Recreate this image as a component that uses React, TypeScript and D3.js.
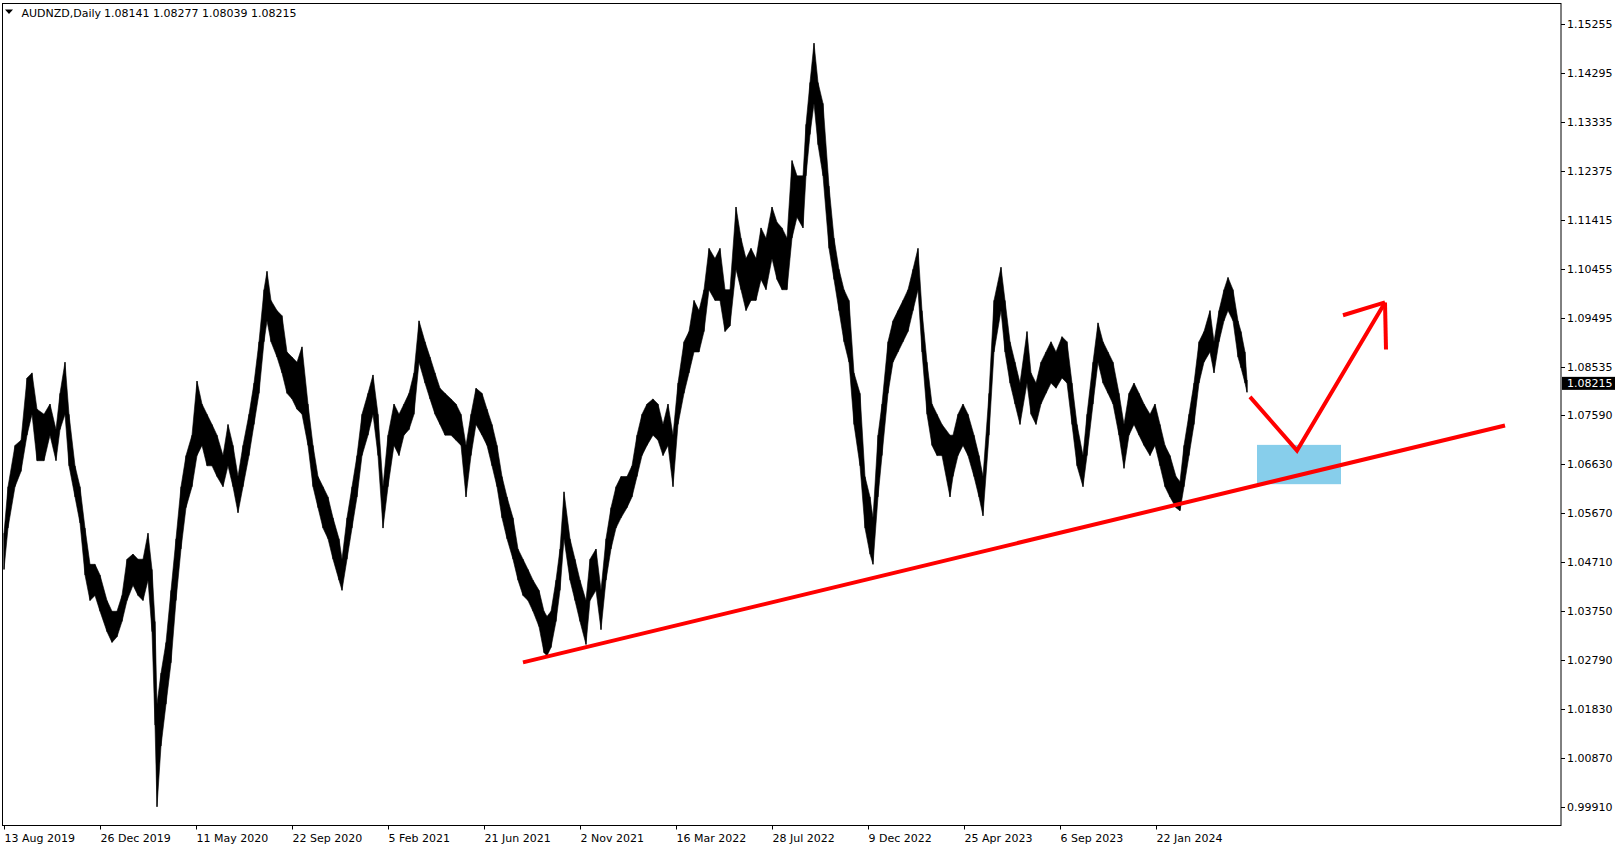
import React from 'react';
import * as d3 from 'd3';

const symbolTitle = 'AUDNZD,Daily';
const lastOHLC = ['1.08141', '1.08277', '1.08039', '1.08215'];
const lastClose = 1.08215;

const priceTickLabels = [
  '1.15255', '1.14295', '1.13335', '1.12375', '1.11415', '1.10455', '1.09495', '1.08535',
  '1.07590', '1.06630', '1.05670', '1.04710', '1.03750', '1.02790', '1.01830', '1.00870', '0.99910',
];

const dateTickLabels = [
  '13 Aug 2019', '26 Dec 2019', '11 May 2020', '22 Sep 2020', '5 Feb 2021', '21 Jun 2021',
  '2 Nov 2021', '16 Mar 2022', '28 Jul 2022', '9 Dec 2022', '25 Apr 2023', '6 Sep 2023', '22 Jan 2024',
];
// trading-day index (from 13 Aug 2019) of each date label
const dateTickDays = [0, 96, 192, 288, 384, 480, 576, 672, 768, 864, 960, 1056, 1152];

// sampled daily range (trading-day index, high, low)
const sampleDay = [
  0, 4, 11, 17, 23, 28, 33, 40, 46, 52, 56, 61, 65, 71, 76, 81, 86, 91, 96, 103,
  108, 113, 118, 123, 129, 134, 139, 144, 148, 151, 153, 157, 162, 167, 172, 177, 182, 188, 193, 198,
  203, 208, 213, 219, 224, 229, 234, 239, 245, 250, 255, 260, 263, 267, 273, 278, 283, 288, 293, 298,
  304, 309, 314, 319, 324, 329, 335, 338, 343, 348, 353, 358, 364, 369, 374, 379, 384, 390, 395, 400,
  405, 410, 415, 421, 426, 431, 436, 441, 447, 452, 457, 462, 467, 472, 478, 483, 488, 493, 498, 503,
  509, 514, 519, 524, 529, 535, 540, 543, 547, 552, 556, 560, 566, 571, 576, 582, 586, 592, 597, 602,
  607, 612, 617, 623, 628, 633, 638, 643, 649, 654, 659, 664, 669, 674, 680, 685, 690, 695, 700, 705,
  711, 716, 721, 726, 732, 737, 742, 747, 752, 757, 762, 768, 773, 778, 783, 788, 793, 799, 802, 806,
  810, 814, 819, 825, 830, 835, 840, 845, 850, 856, 861, 866, 869, 874, 878, 884, 889, 894, 899, 904,
  909, 914, 918, 923, 928, 933, 938, 946, 949, 954, 959, 964, 970, 975, 979, 985, 990, 997, 1001, 1006,
  1011, 1016, 1023, 1027, 1032, 1037, 1042, 1047, 1052, 1058, 1063, 1068, 1073, 1079, 1083, 1089, 1094, 1099, 1104, 1109,
  1115, 1120, 1125, 1130, 1135, 1140, 1146, 1151, 1156, 1161, 1166, 1172, 1176, 1180, 1185, 1190, 1195, 1200, 1206, 1210,
  1215, 1220, 1224, 1229, 1234, 1237, 1241, 1243,
];
const sampleHigh = [
  1.0528, 1.0619, 1.0700, 1.0710, 1.0832, 1.0842, 1.0771, 1.0761, 1.0781, 1.0731, 1.0802, 1.0863, 1.0761, 1.0660, 1.0619, 1.0538, 1.0467, 1.0467, 1.0446, 1.0396,
  1.0375, 1.0375, 1.0406, 1.0477, 1.0487, 1.0477, 1.0477, 1.0528, 1.0457, 1.0355, 1.0193, 1.0254, 1.0314, 1.0416, 1.0517, 1.0619, 1.0680, 1.0720, 1.0826, 1.0781,
  1.0761, 1.0741, 1.0720, 1.0680, 1.0741, 1.0700, 1.0639, 1.0700, 1.0761, 1.0822, 1.0903, 1.1005, 1.1041, 1.0984, 1.0964, 1.0954, 1.0883, 1.0873, 1.0863, 1.0893,
  1.0781, 1.0700, 1.0639, 1.0619, 1.0599, 1.0558, 1.0517, 1.0477, 1.0558, 1.0619, 1.0680, 1.0761, 1.0802, 1.0838, 1.0761, 1.0619, 1.0720, 1.0781, 1.0761, 1.0781,
  1.0802, 1.0842, 1.0944, 1.0903, 1.0873, 1.0842, 1.0812, 1.0802, 1.0791, 1.0781, 1.0761, 1.0700, 1.0761, 1.0812, 1.0802, 1.0771, 1.0741, 1.0700, 1.0639, 1.0599,
  1.0558, 1.0497, 1.0477, 1.0457, 1.0436, 1.0416, 1.0375, 1.0365, 1.0375, 1.0436, 1.0497, 1.0609, 1.0517, 1.0477, 1.0436, 1.0396, 1.0477, 1.0497, 1.0416, 1.0517,
  1.0578, 1.0619, 1.0639, 1.0639, 1.0660, 1.0720, 1.0761, 1.0781, 1.0791, 1.0781, 1.0741, 1.0781, 1.0720, 1.0822, 1.0903, 1.0923, 1.0984, 1.0964, 1.1005, 1.1086,
  1.1066, 1.1086, 1.1005, 1.1005, 1.1167, 1.1106, 1.1066, 1.1086, 1.1066, 1.1126, 1.1106, 1.1167, 1.1137, 1.1126, 1.1106, 1.1258, 1.1228, 1.1228, 1.1329, 1.1411,
  1.1488, 1.1411, 1.1370, 1.1208, 1.1106, 1.1045, 1.1005, 1.0984, 1.0842, 1.0802, 1.0639, 1.0599, 1.0558, 1.0720, 1.0781, 1.0903, 1.0944, 1.0964, 1.0984, 1.1005,
  1.1045, 1.1086, 1.0964, 1.0863, 1.0781, 1.0761, 1.0741, 1.0720, 1.0720, 1.0761, 1.0781, 1.0761, 1.0720, 1.0680, 1.0639, 1.0802, 1.0984, 1.1049, 1.0984, 1.0903,
  1.0863, 1.0822, 1.0923, 1.0842, 1.0822, 1.0863, 1.0883, 1.0903, 1.0883, 1.0913, 1.0903, 1.0822, 1.0741, 1.0680, 1.0761, 1.0863, 1.0940, 1.0903, 1.0883, 1.0863,
  1.0802, 1.0741, 1.0802, 1.0822, 1.0802, 1.0781, 1.0761, 1.0781, 1.0741, 1.0700, 1.0680, 1.0639, 1.0629, 1.0700, 1.0761, 1.0822, 1.0903, 1.0923, 1.0964, 1.0903,
  1.0964, 1.1005, 1.1029, 1.1005, 1.0944, 1.0923, 1.0883, 1.0828,
];
const sampleLow = [
  1.0457, 1.0538, 1.0619, 1.0649, 1.0720, 1.0761, 1.0670, 1.0670, 1.0720, 1.0670, 1.0731, 1.0761, 1.0660, 1.0599, 1.0548, 1.0446, 1.0396, 1.0406, 1.0375, 1.0335,
  1.0314, 1.0325, 1.0355, 1.0396, 1.0426, 1.0406, 1.0396, 1.0436, 1.0335, 1.0152, 0.9992, 1.0111, 1.0193, 1.0274, 1.0396, 1.0497, 1.0578, 1.0619, 1.0680, 1.0700,
  1.0660, 1.0660, 1.0639, 1.0619, 1.0660, 1.0619, 1.0568, 1.0619, 1.0680, 1.0741, 1.0802, 1.0903, 1.0944, 1.0903, 1.0873, 1.0842, 1.0802, 1.0791, 1.0771, 1.0761,
  1.0700, 1.0619, 1.0578, 1.0538, 1.0517, 1.0477, 1.0436, 1.0416, 1.0477, 1.0538, 1.0599, 1.0680, 1.0720, 1.0761, 1.0680, 1.0538, 1.0619, 1.0700, 1.0680, 1.0720,
  1.0731, 1.0761, 1.0863, 1.0822, 1.0791, 1.0761, 1.0741, 1.0720, 1.0720, 1.0710, 1.0700, 1.0599, 1.0680, 1.0741, 1.0720, 1.0700, 1.0660, 1.0619, 1.0558, 1.0517,
  1.0477, 1.0436, 1.0406, 1.0396, 1.0375, 1.0345, 1.0294, 1.0288, 1.0304, 1.0355, 1.0416, 1.0517, 1.0436, 1.0396, 1.0355, 1.0310, 1.0396, 1.0416, 1.0339, 1.0436,
  1.0497, 1.0538, 1.0558, 1.0578, 1.0599, 1.0639, 1.0680, 1.0700, 1.0720, 1.0710, 1.0680, 1.0700, 1.0619, 1.0741, 1.0802, 1.0842, 1.0883, 1.0883, 1.0923, 1.1005,
  1.0984, 1.0984, 1.0923, 1.0934, 1.1045, 1.1005, 1.0964, 1.0984, 1.0984, 1.1025, 1.1005, 1.1066, 1.1025, 1.1005, 1.1005, 1.1106, 1.1147, 1.1126, 1.1228, 1.1309,
  1.1370, 1.1289, 1.1228, 1.1086, 1.1025, 1.0964, 1.0903, 1.0863, 1.0741, 1.0660, 1.0538, 1.0487, 1.0467, 1.0599, 1.0680, 1.0802, 1.0863, 1.0883, 1.0903, 1.0923,
  1.0964, 1.1005, 1.0883, 1.0761, 1.0700, 1.0680, 1.0680, 1.0599, 1.0639, 1.0680, 1.0700, 1.0680, 1.0639, 1.0599, 1.0562, 1.0720, 1.0883, 1.0964, 1.0883, 1.0822,
  1.0781, 1.0741, 1.0822, 1.0761, 1.0741, 1.0781, 1.0802, 1.0822, 1.0812, 1.0832, 1.0822, 1.0741, 1.0660, 1.0619, 1.0680, 1.0781, 1.0863, 1.0822, 1.0802, 1.0781,
  1.0720, 1.0655, 1.0720, 1.0741, 1.0720, 1.0700, 1.0680, 1.0700, 1.0660, 1.0619, 1.0599, 1.0578, 1.0572, 1.0619, 1.0680, 1.0741, 1.0822, 1.0863, 1.0883, 1.0842,
  1.0903, 1.0944, 1.0964, 1.0944, 1.0873, 1.0852, 1.0822, 1.0804,
];

// drawn objects (trading-day index, price)
const trendDays = [519, 1501];
const trendPrices = [1.0275, 1.0739];
const pathDays = [1246, 1293, 1381];
const pathPrices = [1.0795, 1.069, 1.098];
const arrowArmDays = [1339, 1382];
const arrowArmPrices = [1.0955, 1.0888];
const zoneDays = [1253, 1337];
const zonePrices = [1.0701, 1.0624];

const FONT = '"DejaVu Sans", Verdana, sans-serif';

export default function App() {
  const W = 1624;
  const H = 850;
  const left = 2.5;
  const top = 3.5;
  const right = 1561;
  const bottom = 825.5;

  const x = d3.scaleLinear().domain([0, 1556]).range([4, 1560]);
  const y = d3.scaleLinear().domain([0.9991, 1.15255]).range([807.3, 24]);

  const rows = sampleDay.map((d, i) => ({ d, h: sampleHigh[i], l: sampleLow[i] }));
  const area = d3
    .area<{ d: number; h: number; l: number }>()
    .x((r) => x(r.d))
    .y0((r) => y(r.l))
    .y1((r) => y(r.h));
  const line = d3.line<[number, number]>().x((p) => x(p[0])).y((p) => y(p[1]));

  const trend: [number, number][] = trendDays.map((d, i) => [d, trendPrices[i]]);
  const zig: [number, number][] = pathDays.map((d, i) => [d, pathPrices[i]]);
  const tip: [number, number] = [pathDays[2], pathPrices[2]];
  const armL: [number, number][] = [[arrowArmDays[0], arrowArmPrices[0]], tip];
  const armR: [number, number][] = [tip, [arrowArmDays[1], arrowArmPrices[1]]];

  const yc = y(lastClose);

  return (
    <svg
      width={W}
      height={H}
      style={{ position: 'absolute', left: 0, top: 0, background: '#fff' }}
      fontFamily={FONT}
    >
      <rect x={0} y={0} width={W} height={H} fill="#fff" />
      {/* zone */}
      <rect
        x={x(zoneDays[0])}
        y={y(zonePrices[0])}
        width={x(zoneDays[1]) - x(zoneDays[0])}
        height={y(zonePrices[1]) - y(zonePrices[0])}
        fill="#87ceeb"
      />
      {/* price */}
      <path d={area(rows) || ''} fill="#000" stroke="#000" strokeWidth={0.6} />
      {rows.map((r) => (
        <line key={r.d} x1={x(r.d)} x2={x(r.d)} y1={y(r.h)} y2={y(r.l)} stroke="#000" strokeWidth={1} />
      ))}
      {/* drawings */}
      <path d={line(trend) || ''} fill="none" stroke="#ff0000" strokeWidth={4} />
      <path d={line(zig) || ''} fill="none" stroke="#ff0000" strokeWidth={4} strokeLinejoin="miter" />
      <path d={line(armL) || ''} fill="none" stroke="#ff0000" strokeWidth={4} />
      <path d={line(armR) || ''} fill="none" stroke="#ff0000" strokeWidth={4} />

      {/* frame */}
      <rect x={left} y={top} width={right - left} height={bottom - top} fill="none" stroke="#000" strokeWidth={1} />

      {/* price axis */}
      {priceTickLabels.map((t) => {
        const yy = Math.round(y(parseFloat(t))) + 0.5;
        return (
          <g key={t}>
            <line x1={right} x2={right + 4} y1={yy} y2={yy} stroke="#000" />
            <text x={right + 6} y={yy} dy="0.36em" fontSize={11} fill="#000">
              {t}
            </text>
          </g>
        );
      })}
      <rect x={right + 1} y={yc - 6.5} width={53} height={13} fill="#000" />
      <text x={right + 6} y={yc} dy="0.36em" fontSize={11} fill="#fff">
        {lastClose.toFixed(5)}
      </text>

      {/* date axis */}
      {dateTickLabels.map((t, i) => {
        const xx = Math.round(x(dateTickDays[i])) + 0.5;
        return (
          <g key={t}>
            <line x1={xx} x2={xx} y1={bottom} y2={bottom + 4} stroke="#000" />
            <text x={xx} y={842} fontSize={11} fill="#000">
              {t}
            </text>
          </g>
        );
      })}

      {/* header */}
      <path d="M5,9.5 L13,9.5 L9,14 Z" fill="#000" />
      <text x={21.5} y={16.5} fontSize={11} fill="#000">
        {symbolTitle}
      </text>
      <text x={104} y={16.5} fontSize={11} fill="#000">
        {lastOHLC.join(' ')}
      </text>
    </svg>
  );
}
